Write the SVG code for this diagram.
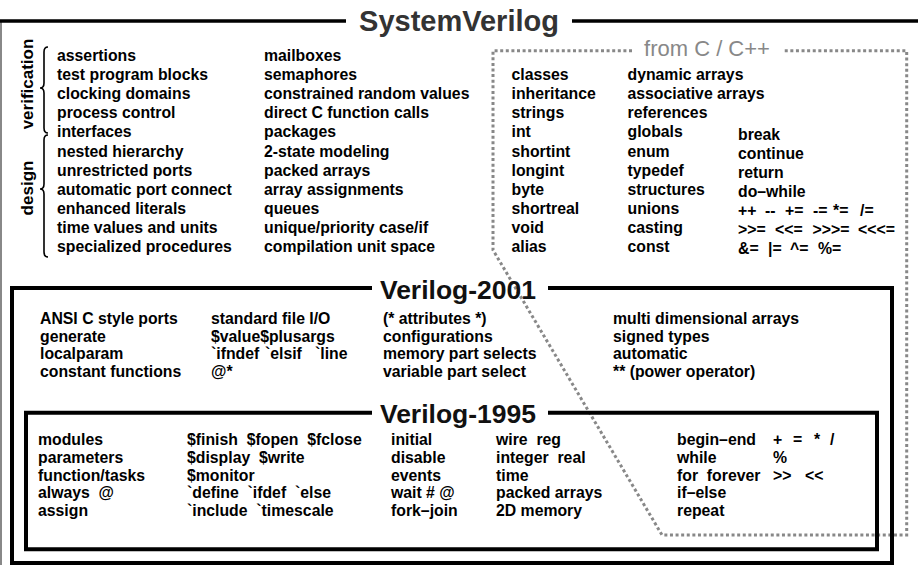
<svg xmlns="http://www.w3.org/2000/svg" width="918" height="565" viewBox="0 0 918 565">
<style>
.t{font-family:"Liberation Sans",Arial,Helvetica,sans-serif;font-weight:bold;font-size:15.8px;fill:#000}
.pre{white-space:pre}
.ttl{font-family:"Liberation Sans",Arial,Helvetica,sans-serif;font-weight:bold;text-anchor:middle}
.box{fill:none;stroke:#000;stroke-width:4}
.side{font-family:"Liberation Sans",Arial,Helvetica,sans-serif;font-weight:bold;font-size:17px;text-anchor:middle;fill:#000}
.brace{fill:none;stroke:#000;stroke-width:1.6}
.dot{fill:none;stroke:#888;stroke-width:3;stroke-dasharray:3 2.6}
</style>
<rect width="918" height="565" fill="#fff"/>

<g id="systemverilog">
  <path d="M1,21 V565" stroke="#888" stroke-width="2" fill="none"/>
  <path d="M0,21 H346 M572,21 H918" stroke="#000" stroke-width="3.5" fill="none"/>
  <text class="ttl" x="459" y="31" font-size="29" fill="#333">SystemVerilog</text>
  <text class="side" transform="translate(33,84) rotate(-90)">verification</text>
  <text class="side" transform="translate(33,188) rotate(-90)">design</text>
  <path class="brace" d="M48,47 Q44,47 44,52 V83 Q44,88 40,88 Q44,88 44,93 V128 Q44,133 48,133"/>
  <path class="brace" d="M48,135 Q44,135 44,140 V184 Q44,189 40,189 Q44,189 44,194 V252 Q44,257 48,257"/>
  <g class="t">
    <text x="57" y="61">assertions</text>
    <text x="57" y="80.1">test program blocks</text>
    <text x="57" y="99.2">clocking domains</text>
    <text x="57" y="118.3">process control</text>
    <text x="57" y="137.4">interfaces</text>
    <text x="57" y="156.5">nested hierarchy</text>
    <text x="57" y="175.6">unrestricted ports</text>
    <text x="57" y="194.7">automatic port connect</text>
    <text x="57" y="213.8">enhanced literals</text>
    <text x="57" y="232.9">time values and units</text>
    <text x="57" y="252">specialized procedures</text>
    <text x="264" y="61">mailboxes</text>
    <text x="264" y="80.1">semaphores</text>
    <text x="264" y="99.2">constrained random values</text>
    <text x="264" y="118.3">direct C function calls</text>
    <text x="264" y="137.4">packages</text>
    <text x="264" y="156.5">2-state modeling</text>
    <text x="264" y="175.6">packed arrays</text>
    <text x="264" y="194.7">array assignments</text>
    <text x="264" y="213.8">queues</text>
    <text x="264" y="232.9">unique/priority case/if</text>
    <text x="264" y="252">compilation unit space</text>
  </g>
</g>

<g id="from-c">
  <path class="dot" d="M632,50.7 H493 V250 L662,535 H906.7 V50.7 H783"/>
  <text x="707" y="56" font-family="Liberation Sans,Arial,sans-serif" font-size="22" fill="#888" text-anchor="middle">from C / C++</text>
  <g class="t">
    <text x="511.5" y="80.1">classes</text>
    <text x="511.5" y="99.2">inheritance</text>
    <text x="511.5" y="118.3">strings</text>
    <text x="511.5" y="137.4">int</text>
    <text x="511.5" y="156.5">shortint</text>
    <text x="511.5" y="175.6">longint</text>
    <text x="511.5" y="194.7">byte</text>
    <text x="511.5" y="213.8">shortreal</text>
    <text x="511.5" y="232.9">void</text>
    <text x="511.5" y="252">alias</text>
    <text x="627.5" y="80.1">dynamic arrays</text>
    <text x="627.5" y="99.2">associative arrays</text>
    <text x="627.5" y="118.3">references</text>
    <text x="627.5" y="137.4">globals</text>
    <text x="627.5" y="156.5">enum</text>
    <text x="627.5" y="175.6">typedef</text>
    <text x="627.5" y="194.7">structures</text>
    <text x="627.5" y="213.8">unions</text>
    <text x="627.5" y="232.9">casting</text>
    <text x="627.5" y="252">const</text>
    <text x="738" y="139.5">break</text>
    <text x="738" y="158.6">continue</text>
    <text x="738" y="177.7">return</text>
    <text x="738" y="196.8">do–while</text>
    <text y="215.9"><tspan x="738">++</tspan><tspan x="765">--</tspan><tspan x="785">+=</tspan><tspan x="813">-=</tspan><tspan x="833">*=</tspan><tspan x="860">/=</tspan></text>
    <text y="235"><tspan x="738">&gt;&gt;=</tspan><tspan x="775">&lt;&lt;=</tspan><tspan x="812.5">&gt;&gt;&gt;=</tspan><tspan x="858">&lt;&lt;&lt;=</tspan></text>
    <text y="254.1"><tspan x="738">&amp;=</tspan><tspan x="768">|=</tspan><tspan x="790">^=</tspan><tspan x="818">%=</tspan></text>
  </g>
</g>

<g id="verilog-2001">
  <path class="box" d="M372,288 H12 V563 H892 V288 H548"/>
  <text class="ttl" x="458" y="298.5" font-size="26.5" fill="#111">Verilog-2001</text>
  <g class="t">
    <text x="40" y="324">ANSI C style ports</text>
    <text x="40" y="341.7">generate</text>
    <text x="40" y="359.4">localparam</text>
    <text x="40" y="377.1">constant functions</text>
    <text x="211" y="324">standard file I/O</text>
    <text x="211" y="341.7">$value$plusargs</text>
    <text y="359.4"><tspan x="211">`ifndef</tspan><tspan x="265">`elsif</tspan><tspan x="315">`line</tspan></text>
    <text x="211" y="377.1">@*</text>
    <text x="383" y="324">(* attributes *)</text>
    <text x="383" y="341.7">configurations</text>
    <text x="383" y="359.4">memory part selects</text>
    <text x="383" y="377.1">variable part select</text>
    <text x="613" y="324">multi dimensional arrays</text>
    <text x="613" y="341.7">signed types</text>
    <text x="613" y="359.4">automatic</text>
    <text x="613" y="377.1">** (power operator)</text>
  </g>
</g>

<g id="verilog-1995">
  <path class="box" d="M372,412.7 H26 V549.3 H877 V412.7 H548"/>
  <text class="ttl" x="458" y="422.5" font-size="26.5" fill="#111">Verilog-1995</text>
  <g class="t">
    <text x="38" y="445">modules</text>
    <text x="38" y="462.8">parameters</text>
    <text x="38" y="480.6">function/tasks</text>
    <text class="pre" x="38" y="498.4">always  @</text>
    <text x="38" y="516.2">assign</text>
    <text class="pre" x="187" y="445">$finish  $fopen  $fclose</text>
    <text class="pre" x="187" y="462.8">$display  $write</text>
    <text x="187" y="480.6">$monitor</text>
    <text class="pre" x="187" y="498.4">`define  `ifdef  `else</text>
    <text class="pre" x="187" y="516.2">`include  `timescale</text>
    <text x="391" y="445">initial</text>
    <text x="391" y="462.8">disable</text>
    <text x="391" y="480.6">events</text>
    <text x="391" y="498.4">wait # @</text>
    <text x="391" y="516.2">fork–join</text>
    <text class="pre" x="496" y="445">wire  reg</text>
    <text class="pre" x="496" y="462.8">integer  real</text>
    <text x="496" y="480.6">time</text>
    <text x="496" y="498.4">packed arrays</text>
    <text x="496" y="516.2">2D memory</text>
    <text x="677" y="445">begin–end</text>
    <text x="677" y="462.8">while</text>
    <text class="pre" x="677" y="480.6">for  forever</text>
    <text x="677" y="498.4">if–else</text>
    <text x="677" y="516.2">repeat</text>
    <text y="445"><tspan x="773">+</tspan><tspan x="793">=</tspan><tspan x="814">*</tspan><tspan x="830">/</tspan></text>
    <text x="773" y="462.8">%</text>
    <text y="480.6"><tspan x="773">&gt;&gt;</tspan><tspan x="805">&lt;&lt;</tspan></text>
  </g>
</g>
</svg>
